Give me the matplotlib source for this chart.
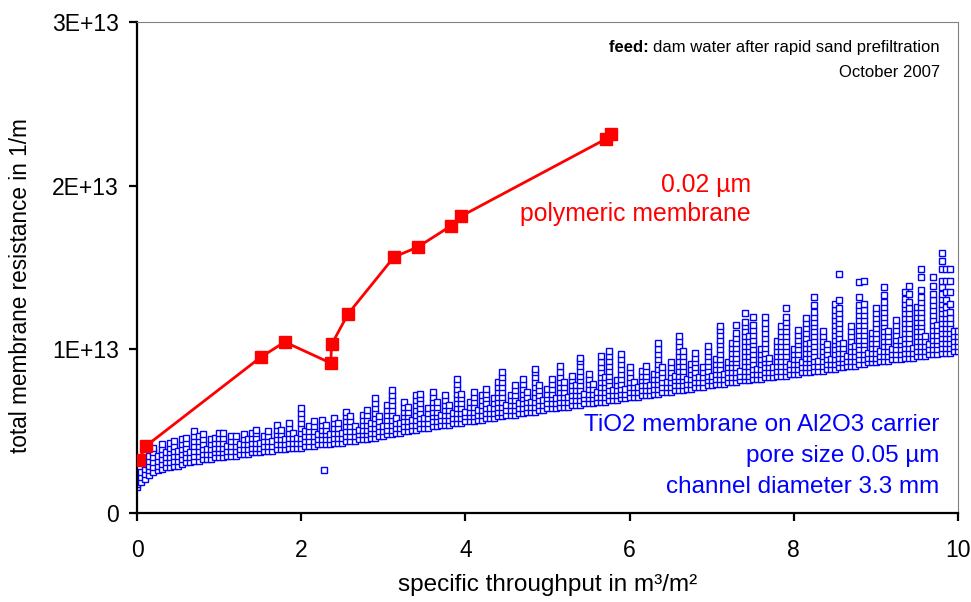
import matplotlib
matplotlib.use('Agg')
import matplotlib.pyplot as plt
from matplotlib.ticker import FuncFormatter, MultipleLocator

plt.rcParams['font.family'] = ['Liberation Sans', 'DejaVu Sans']

# polymeric membrane (red), y in 1E+13 1/m
poly_x = [0.02, 0.11, 1.51, 1.80, 2.36, 2.37, 2.57, 3.13, 3.42, 3.82, 3.95, 5.71, 5.77]
poly_y = [0.324, 0.41, 0.953, 1.045, 0.916, 1.03, 1.216, 1.564, 1.625, 1.753, 1.814, 2.285, 2.315]

tio2_x = [0.00, 0.05, 0.10, 0.15, 0.20, 0.25, 0.30, 0.35, 0.40, 0.45, 0.50, 0.55, 0.60, 0.65, 0.70,
          0.75, 0.80, 0.85, 0.90, 0.95, 1.00, 1.05, 1.10, 1.15, 1.20, 1.25, 1.30, 1.35, 1.40, 1.45,
          1.50, 1.55, 1.60, 1.65, 1.70, 1.75, 1.80, 1.85, 1.90, 1.95, 2.00, 2.05, 2.10, 2.15, 2.20,
          2.25, 2.30, 2.35, 2.40, 2.45, 2.50, 2.55, 2.60, 2.65, 2.70, 2.75, 2.80, 2.85, 2.90, 2.95,
          3.00, 3.05, 3.10, 3.15, 3.20, 3.25, 3.30, 3.35, 3.40, 3.45, 3.50, 3.55, 3.60, 3.65, 3.70,
          3.75, 3.80, 3.85, 3.90, 3.95, 4.00, 4.05, 4.10, 4.15, 4.20, 4.25, 4.30, 4.35, 4.40, 4.45,
          4.50, 4.55, 4.60, 4.65, 4.70, 4.75, 4.80, 4.85, 4.90, 4.95, 5.00, 5.05, 5.10, 5.15, 5.20,
          5.25, 5.30, 5.35, 5.40, 5.45, 5.50, 5.55, 5.60, 5.65, 5.70, 5.75, 5.80, 5.85, 5.90, 5.95,
          6.00, 6.05, 6.10, 6.15, 6.20, 6.25, 6.30, 6.35, 6.40, 6.45, 6.50, 6.55, 6.60, 6.65, 6.70,
          6.75, 6.80, 6.85, 6.90, 6.95, 7.00, 7.05, 7.10, 7.15, 7.20, 7.25, 7.30, 7.35, 7.40, 7.45,
          7.50, 7.55, 7.60, 7.65, 7.70, 7.75, 7.80, 7.85, 7.90, 7.95, 8.00, 8.05, 8.10, 8.15, 8.20,
          8.25, 8.30, 8.35, 8.40, 8.45, 8.50, 8.55, 8.60, 8.65, 8.70, 8.75, 8.80, 8.85, 8.90, 8.95,
          9.00, 9.05, 9.10, 9.15, 9.20, 9.25, 9.30, 9.35, 9.40, 9.45, 9.50, 9.55, 9.60, 9.65, 9.70,
          9.75, 9.80, 9.85, 9.90, 9.95, 10.00, 2.28]
tio2_y = [
    [0.16, 0.18], [0.19, 0.22, 0.25], [0.21, 0.24, 0.27, 0.30], [0.23, 0.26, 0.29, 0.32, 0.35],
    [0.25, 0.28, 0.31, 0.34, 0.37, 0.40], [0.26, 0.29, 0.32, 0.35], [0.27, 0.30, 0.33, 0.36, 0.39, 0.42],
    [0.28, 0.31, 0.34, 0.37], [0.28, 0.31, 0.34, 0.37, 0.40, 0.43], [0.29, 0.32, 0.35, 0.38, 0.41, 0.44],
    [0.29, 0.32, 0.35, 0.38], [0.30, 0.33, 0.36, 0.39, 0.42, 0.45], [0.31, 0.34, 0.37, 0.40, 0.43, 0.46],
    [0.31, 0.34, 0.37], [0.32, 0.35, 0.38, 0.41, 0.44, 0.47, 0.50], [0.32, 0.35, 0.38, 0.41, 0.44, 0.47],
    [0.33, 0.36, 0.39, 0.42, 0.45, 0.48], [0.33, 0.36, 0.39], [0.33, 0.36, 0.39, 0.42, 0.45],
    [0.34, 0.37, 0.40, 0.43, 0.46], [0.34, 0.37, 0.40, 0.43, 0.46, 0.49], [0.34, 0.37, 0.40, 0.43, 0.46, 0.49],
    [0.35, 0.38, 0.41], [0.35, 0.38, 0.41, 0.44, 0.47], [0.35, 0.38, 0.41, 0.44, 0.47],
    [0.36, 0.39, 0.42], [0.36, 0.39, 0.42, 0.45, 0.48], [0.36, 0.39, 0.42, 0.45],
    [0.37, 0.40, 0.43, 0.46, 0.49], [0.37, 0.40, 0.43, 0.46, 0.49, 0.51], [0.37, 0.40, 0.43],
    [0.38, 0.41, 0.44, 0.47], [0.38, 0.41, 0.44, 0.47, 0.50], [0.38, 0.41, 0.44],
    [0.39, 0.42, 0.45, 0.48, 0.51, 0.54], [0.39, 0.42, 0.45, 0.48, 0.51], [0.39, 0.42, 0.45],
    [0.40, 0.43, 0.46, 0.49, 0.52, 0.55], [0.40, 0.43, 0.46, 0.49], [0.40, 0.43, 0.46],
    [0.40, 0.43, 0.46, 0.49, 0.52, 0.55, 0.58, 0.61, 0.64], [0.41, 0.44, 0.47, 0.50],
    [0.41, 0.44, 0.47, 0.50, 0.53], [0.41, 0.44, 0.47, 0.50, 0.53, 0.56], [0.42, 0.45, 0.48],
    [0.42, 0.45, 0.48, 0.51, 0.54, 0.57], [0.42, 0.45, 0.48, 0.51, 0.54], [0.42, 0.45, 0.48],
    [0.43, 0.46, 0.49, 0.52, 0.55, 0.58], [0.43, 0.46, 0.49, 0.52, 0.55], [0.43, 0.46, 0.49],
    [0.44, 0.47, 0.50, 0.53, 0.56, 0.59, 0.62], [0.44, 0.47, 0.50, 0.53, 0.56, 0.59],
    [0.44, 0.47, 0.50, 0.53], [0.45, 0.48, 0.51], [0.45, 0.48, 0.51, 0.54, 0.57, 0.60],
    [0.45, 0.48, 0.51, 0.54, 0.57, 0.60, 0.63], [0.46, 0.49, 0.52, 0.55],
    [0.46, 0.49, 0.52, 0.55, 0.58, 0.61, 0.64, 0.67, 0.70], [0.47, 0.50, 0.53, 0.56, 0.59],
    [0.47, 0.50, 0.53], [0.48, 0.51, 0.54, 0.57, 0.60, 0.63, 0.66],
    [0.48, 0.51, 0.54, 0.57, 0.60, 0.63, 0.66, 0.69, 0.72, 0.75], [0.49, 0.52, 0.55, 0.58],
    [0.49, 0.52, 0.55], [0.50, 0.53, 0.56, 0.59, 0.62, 0.65, 0.68], [0.50, 0.53, 0.56, 0.59, 0.62, 0.65],
    [0.51, 0.54, 0.57], [0.51, 0.54, 0.57, 0.60, 0.63, 0.66, 0.69, 0.72],
    [0.52, 0.55, 0.58, 0.61, 0.64, 0.67, 0.70, 0.73], [0.52, 0.55, 0.58], [0.52, 0.55, 0.58, 0.61, 0.64],
    [0.53, 0.56, 0.59, 0.62, 0.65, 0.68, 0.71, 0.74], [0.53, 0.56, 0.59, 0.62, 0.65, 0.68],
    [0.54, 0.57, 0.60], [0.54, 0.57, 0.60, 0.63, 0.66, 0.69, 0.72], [0.54, 0.57, 0.60, 0.63, 0.66],
    [0.55, 0.58, 0.61], [0.55, 0.58, 0.61, 0.64, 0.67, 0.70, 0.73, 0.76, 0.79, 0.82],
    [0.55, 0.58, 0.61, 0.64, 0.67, 0.70, 0.73], [0.56, 0.59, 0.62], [0.56, 0.59, 0.62, 0.65, 0.68],
    [0.56, 0.59, 0.62, 0.65, 0.68, 0.71, 0.74], [0.57, 0.60, 0.63], [0.57, 0.60, 0.63, 0.66, 0.69, 0.72],
    [0.58, 0.61, 0.64, 0.67, 0.70, 0.73, 0.76], [0.58, 0.61, 0.64], [0.58, 0.61, 0.64, 0.67, 0.70],
    [0.59, 0.62, 0.65, 0.68, 0.71, 0.74, 0.77, 0.80],
    [0.59, 0.62, 0.65, 0.68, 0.71, 0.74, 0.77, 0.80, 0.83, 0.86], [0.60, 0.63, 0.66],
    [0.60, 0.63, 0.66, 0.69, 0.72], [0.60, 0.63, 0.66, 0.69, 0.72, 0.75, 0.78], [0.61, 0.64, 0.67],
    [0.61, 0.64, 0.67, 0.70, 0.73, 0.76, 0.79, 0.82], [0.62, 0.65, 0.68, 0.71, 0.74], [0.62, 0.65, 0.68],
    [0.62, 0.65, 0.68, 0.71, 0.74, 0.77, 0.80, 0.83, 0.86, 0.88], [0.63, 0.66, 0.69, 0.72, 0.75, 0.78],
    [0.63, 0.66, 0.69], [0.64, 0.67, 0.70, 0.73, 0.76], [0.64, 0.67, 0.70, 0.73, 0.76, 0.79, 0.82],
    [0.64, 0.67, 0.70], [0.65, 0.68, 0.71, 0.74, 0.77, 0.80, 0.83, 0.86, 0.90],
    [0.65, 0.68, 0.71, 0.74, 0.77, 0.80], [0.65, 0.68, 0.71], [0.66, 0.69, 0.72, 0.75, 0.78, 0.81, 0.84],
    [0.66, 0.69, 0.72, 0.75, 0.78], [0.66, 0.69, 0.72, 0.75, 0.78, 0.81, 0.84, 0.87, 0.90, 0.93, 0.95],
    [0.67, 0.70, 0.73], [0.67, 0.70, 0.73, 0.76, 0.79, 0.82, 0.85], [0.67, 0.70, 0.73, 0.76, 0.79],
    [0.68, 0.71, 0.74], [0.68, 0.71, 0.74, 0.77, 0.80, 0.83, 0.86, 0.89, 0.92, 0.96],
    [0.68, 0.71, 0.74, 0.77, 0.80, 0.83], [0.69, 0.72, 0.75, 0.78, 0.81, 0.84, 0.87, 0.90, 0.93, 0.96, 0.99],
    [0.69, 0.72, 0.75], [0.69, 0.72, 0.75, 0.78, 0.81], [0.70, 0.73, 0.76, 0.79, 0.82, 0.85, 0.88, 0.91, 0.94, 0.97],
    [0.70, 0.73, 0.76], [0.71, 0.74, 0.77, 0.80, 0.83, 0.86, 0.89], [0.71, 0.74, 0.77, 0.80],
    [0.71, 0.74, 0.77], [0.72, 0.75, 0.78, 0.81, 0.84, 0.87], [0.72, 0.75, 0.78, 0.81, 0.84, 0.87, 0.90],
    [0.72, 0.75, 0.78], [0.73, 0.76, 0.79, 0.82, 0.85],
    [0.73, 0.76, 0.79, 0.82, 0.85, 0.88, 0.91, 0.94, 0.97, 1.00, 1.04], [0.74, 0.77, 0.80, 0.83, 0.86, 0.89],
    [0.74, 0.77, 0.80], [0.74, 0.77, 0.80, 0.83, 0.86, 0.89, 0.92], [0.75, 0.78, 0.81, 0.84],
    [0.75, 0.78, 0.81, 0.84, 0.87, 0.90, 0.93, 0.96, 0.99, 1.02, 1.05, 1.08],
    [0.75, 0.78, 0.81, 0.84, 0.87, 0.90, 0.93, 0.96, 0.99], [0.76, 0.79, 0.82],
    [0.76, 0.79, 0.82, 0.85, 0.88, 0.91], [0.77, 0.80, 0.83, 0.86, 0.89, 0.92, 0.95, 0.98],
    [0.77, 0.80, 0.83], [0.77, 0.80, 0.83, 0.86, 0.89],
    [0.78, 0.81, 0.84, 0.87, 0.90, 0.93, 0.96, 0.99, 1.02], [0.78, 0.81, 0.84],
    [0.79, 0.82, 0.85, 0.88, 0.91, 0.94],
    [0.79, 0.82, 0.85, 0.88, 0.91, 0.94, 0.97, 1.00, 1.03, 1.06, 1.09, 1.12, 1.14],
    [0.79, 0.82, 0.85], [0.80, 0.83, 0.86, 0.89, 0.92],
    [0.80, 0.83, 0.86, 0.89, 0.92, 0.95, 0.98, 1.01, 1.04],
    [0.80, 0.83, 0.86, 0.89, 0.92, 0.95, 0.98, 1.01, 1.04, 1.07, 1.10, 1.15], [0.81, 0.84, 0.87],
    [0.81, 0.84, 0.87, 0.90, 0.93, 0.96, 0.99, 1.02, 1.05, 1.08, 1.11, 1.14, 1.17, 1.22],
    [0.81, 0.84, 0.87, 0.90, 0.93, 0.96, 0.99, 1.02, 1.05, 1.08],
    [0.82, 0.85, 0.88, 0.91, 0.94, 0.97, 1.00, 1.03, 1.06, 1.09, 1.12, 1.15, 1.20], [0.82, 0.85, 0.88],
    [0.82, 0.85, 0.88, 0.91, 0.94, 0.97, 1.00],
    [0.83, 0.86, 0.89, 0.92, 0.95, 0.98, 1.01, 1.04, 1.07, 1.10, 1.13, 1.16, 1.20],
    [0.83, 0.86, 0.89, 0.92, 0.95], [0.83, 0.86, 0.89], [0.84, 0.87, 0.90, 0.93, 0.96, 0.99, 1.02, 1.05],
    [0.84, 0.87, 0.90, 0.93, 0.96, 0.99, 1.02, 1.05, 1.08, 1.11, 1.14],
    [0.84, 0.87, 0.90, 0.93, 0.96, 0.99, 1.02, 1.05, 1.08, 1.11, 1.14, 1.17, 1.20, 1.25],
    [0.85, 0.88, 0.91], [0.85, 0.88, 0.91, 0.94, 0.97, 1.00],
    [0.85, 0.88, 0.91, 0.94, 0.97, 1.00, 1.03, 1.06, 1.09, 1.12], [0.86, 0.89, 0.92],
    [0.86, 0.89, 0.92, 0.95, 0.98, 1.01, 1.04, 1.07, 1.10, 1.13, 1.16, 1.19],
    [0.86, 0.89, 0.92, 0.95, 0.98, 1.01, 1.04],
    [0.87, 0.90, 0.93, 0.96, 0.99, 1.02, 1.05, 1.08, 1.11, 1.14, 1.17, 1.20, 1.23, 1.27, 1.32],
    [0.87, 0.90, 0.93], [0.87, 0.90, 0.93, 0.96, 0.99, 1.02, 1.05, 1.08, 1.11],
    [0.88, 0.91, 0.94, 0.97, 1.00, 1.03], [0.88, 0.91, 0.94],
    [0.88, 0.91, 0.94, 0.97, 1.00, 1.03, 1.06, 1.09, 1.12, 1.15, 1.18, 1.21, 1.24, 1.28],
    [0.89, 0.92, 0.95, 0.98, 1.01, 1.04, 1.07, 1.10, 1.13, 1.16, 1.19, 1.22, 1.25, 1.30, 1.46],
    [0.89, 0.92, 0.95, 0.98, 1.01, 1.04], [0.90, 0.93, 0.96],
    [0.90, 0.93, 0.96, 0.99, 1.02, 1.05, 1.08, 1.11, 1.14], [0.90, 0.93, 0.96, 0.99, 1.02],
    [0.91, 0.94, 0.97, 1.00, 1.03, 1.06, 1.09, 1.12, 1.15, 1.18, 1.21, 1.24, 1.27, 1.32, 1.41],
    [0.91, 0.94, 0.97, 1.00, 1.03, 1.06, 1.09, 1.12, 1.15, 1.18, 1.21, 1.24, 1.28, 1.42],
    [0.92, 0.95, 0.98], [0.92, 0.95, 0.98, 1.01, 1.04, 1.07, 1.10],
    [0.92, 0.95, 0.98, 1.01, 1.04, 1.07, 1.10, 1.13, 1.16, 1.19, 1.22, 1.25], [0.93, 0.96, 0.99],
    [0.93, 0.96, 0.99, 1.02, 1.05, 1.08, 1.11, 1.14, 1.17, 1.20, 1.23, 1.26, 1.29, 1.33, 1.38],
    [0.93, 0.96, 0.99, 1.02, 1.05, 1.08, 1.11], [0.94, 0.97, 1.00],
    [0.94, 0.97, 1.00, 1.03, 1.06, 1.09, 1.12, 1.15, 1.18], [0.94, 0.97, 1.00, 1.03, 1.06],
    [0.95, 0.98, 1.01, 1.04, 1.07, 1.10, 1.13, 1.16, 1.19, 1.22, 1.25, 1.28, 1.31, 1.35],
    [0.95, 0.98, 1.01, 1.04, 1.07, 1.10, 1.13, 1.16, 1.19, 1.22, 1.25, 1.29, 1.34, 1.39],
    [0.95, 0.98, 1.01], [0.96, 0.99, 1.02, 1.05, 1.08, 1.11, 1.14, 1.17, 1.20, 1.23, 1.26],
    [0.96, 0.99, 1.02, 1.05, 1.08, 1.11, 1.14, 1.17, 1.20, 1.23, 1.26, 1.29, 1.32, 1.36, 1.44, 1.49],
    [0.96, 0.99, 1.02, 1.05, 1.08], [0.97, 1.00, 1.03],
    [0.97, 1.00, 1.03, 1.06, 1.09, 1.12, 1.15, 1.18, 1.21, 1.24, 1.27, 1.30, 1.34, 1.39, 1.44],
    [0.97, 1.00, 1.03, 1.06, 1.09, 1.12, 1.15],
    [0.98, 1.01, 1.04, 1.07, 1.10, 1.13, 1.16, 1.19, 1.22, 1.25, 1.28, 1.31, 1.34, 1.38, 1.42, 1.49, 1.54, 1.59],
    [0.98, 1.01, 1.04, 1.07, 1.10, 1.13, 1.16, 1.19, 1.22, 1.26, 1.30, 1.35, 1.42, 1.49],
    [0.98, 1.01, 1.04, 1.07, 1.10, 1.13, 1.16, 1.19, 1.23, 1.28, 1.35, 1.42, 1.49],
    [0.99, 1.02, 1.05, 1.08, 1.11], [0.99, 1.02, 1.05, 1.08, 1.11], [0.26]]

# flatten the stacks into one scatter series
blue_x = []
blue_y = []
for xv, ys in zip(tio2_x, tio2_y):
    for yv in ys:
        blue_x.append(xv)
        blue_y.append(yv * 1e13)

fig = plt.figure(figsize=(9.71, 6.02), dpi=100)
ax = fig.add_axes([0.1411, 0.1478, 0.8455, 0.8157])

ax.plot(blue_x, blue_y, linestyle='none', marker='s', markersize=4.2,
        markerfacecolor='white', markeredgecolor='#0000FF', markeredgewidth=1.0, zorder=2)
ax.plot(poly_x, [v * 1e13 for v in poly_y], color='#FF0000', linewidth=2.0,
        marker='s', markersize=9.3, markerfacecolor='#FF0000', markeredgecolor='#FF0000', zorder=3)

ax.set_xlim(0, 10)
ax.set_ylim(0, 3e13)
ax.xaxis.set_major_locator(MultipleLocator(2))
ax.yaxis.set_major_locator(MultipleLocator(1e13))
ax.yaxis.set_major_formatter(FuncFormatter(lambda v, p: '0' if v == 0 else '%dE+13' % round(v / 1e13)))

for side in ['left', 'bottom']:
    ax.spines[side].set_linewidth(1.6)
    ax.spines[side].set_color('black')
for side in ['top', 'right']:
    ax.spines[side].set_linewidth(0.8)
    ax.spines[side].set_color('#808080')
ax.tick_params(axis='both', direction='out', length=6, width=1.6, labelsize=16.5,
               top=False, right=False)
ax.tick_params(axis='y', pad=7)
ax.tick_params(axis='x', pad=13)

ax.set_xlabel('specific throughput in m³/m²', fontsize=17.5, labelpad=8)
ax.set_ylabel('total membrane resistance in 1/m', fontsize=16.3)
ax.yaxis.set_label_coords(-0.128, 0.464)

# annotations
ax.text(0.748, 0.668, '0.02 µm', transform=ax.transAxes, fontsize=17.8, color='#FF0000',
        ha='right', va='center')
ax.text(0.748, 0.609, 'polymeric membrane', transform=ax.transAxes, fontsize=17.8, color='#FF0000',
        ha='right', va='center')

ax.text(0.977, 0.179, 'TiO2 membrane on Al2O3 carrier', transform=ax.transAxes, fontsize=17.5,
        color='#0000FF', ha='right', va='center')
ax.text(0.977, 0.116, 'pore size 0.05 µm', transform=ax.transAxes, fontsize=17.5,
        color='#0000FF', ha='right', va='center')
ax.text(0.977, 0.053, 'channel diameter 3.3 mm', transform=ax.transAxes, fontsize=17.5,
        color='#0000FF', ha='right', va='center')

feed = ax.text(0.978, 0.949, 'dam water after rapid sand prefiltration', transform=ax.transAxes,
               fontsize=12, ha='right', va='center')
ax.annotate('feed: ', xy=(0, 0.5), xycoords=feed, fontsize=12, fontweight='bold',
            ha='right', va='center')
ax.text(0.978, 0.898, 'October 2007', transform=ax.transAxes, fontsize=12, ha='right', va='center')

fig.savefig('out.png', dpi=100)
